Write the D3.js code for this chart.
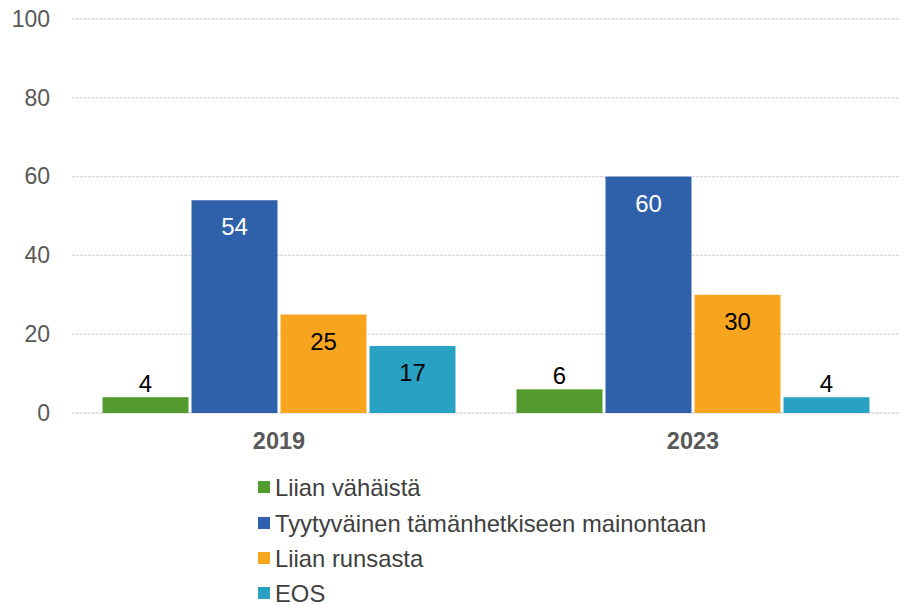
<!DOCTYPE html>
<html><head><meta charset="utf-8">
<script src="https://cdn.jsdelivr.net/npm/d3@7"></script>
<style>body{margin:0;background:#fff}svg{display:block}text{font-family:"Liberation Sans",Arial,sans-serif}</style>
</head><body>
<script>
const years = ["2019", "2023"];
const seriesNames = ["Liian vähäistä", "Tyytyväinen tämänhetkiseen mainontaan", "Liian runsasta", "EOS"];
const seriesColors = ["#539B2F", "#2F61AB", "#F7A51E", "#28A1C3"];
const values2019 = [4, 54, 25, 17];
const values2023 = [6, 60, 30, 4];
const yTicks = [0, 20, 40, 60, 80, 100];
const labelColors = ["#000", "#fff", "#000", "#000"];

(function () {
const W = 907, H = 605;
const svg = d3.select("body").append("svg").attr("width", W).attr("height", H);
const mLeft = 72, mRight = 900, mTop = 19, mBottom = 413;

const y = d3.scaleLinear().domain([0, 100]).range([mBottom, mTop]);
const x0 = d3.scaleBand().domain(years).range([mLeft, mRight]).paddingInner(0.1474).paddingOuter(0.0737);
const x1 = d3.scaleBand().domain(seriesNames).range([0, x0.bandwidth()]).paddingInner(0.034);

// gridlines
svg.append("g").selectAll("line").data(yTicks).join("line")
  .attr("x1", mLeft).attr("x2", mRight).attr("y1", d => y(d)).attr("y2", d => y(d))
  .attr("stroke", "#d9d9d9").attr("stroke-width", 1.3).attr("stroke-dasharray", "3,1");

// y axis
const yAxis = d3.axisLeft(y).tickValues(yTicks).tickSize(0).tickPadding(22);
const gy = svg.append("g").attr("transform", `translate(${mLeft},0)`).call(yAxis);
gy.select(".domain").remove();
gy.selectAll("text").attr("font-size", 23).attr("fill", "#595959").style("font-family", '"Liberation Sans",Arial,sans-serif');

// x axis
const xAxis = d3.axisBottom(x0).tickSize(0).tickPadding(19);
const gx = svg.append("g").attr("transform", `translate(0,${mBottom})`).call(xAxis);
gx.select(".domain").remove();
gx.selectAll("text").attr("font-size", 23.5).attr("font-weight", "bold").attr("fill", "#595959").style("font-family", '"Liberation Sans",Arial,sans-serif');

const data = [
  {year: "2019", vals: values2019},
  {year: "2023", vals: values2023}
];

const groups = svg.append("g").selectAll("g").data(data).join("g")
  .attr("transform", d => `translate(${x0(d.year)},0)`);

groups.selectAll("rect").data(d => d.vals.map((v, i) => ({v, i, name: seriesNames[i]}))).join("rect")
  .attr("x", d => x1(d.name)).attr("width", x1.bandwidth())
  .attr("y", d => y(d.v)).attr("height", d => y(0) - y(d.v))
  .attr("fill", d => seriesColors[d.i]);

groups.selectAll("text.lbl").data(d => d.vals.map((v, i) => ({v, i, name: seriesNames[i]}))).join("text")
  .attr("class", "lbl")
  .attr("x", d => x1(d.name) + x1.bandwidth() / 2)
  .attr("y", d => (d.v >= 10 ? y(d.v) + 35 : y(d.v) - 5))
  .attr("text-anchor", "middle")
  .attr("font-size", 24)
  .attr("fill", d => (d.v >= 10 ? labelColors[d.i] : "#000"))
  .text(d => d.v);

// legend
const lg = svg.append("g").attr("transform", "translate(258,0)");
const lgY = [487, 523, 558, 593];
seriesNames.forEach((n, i) => {
  lg.append("rect").attr("x", 0).attr("y", lgY[i] - 6).attr("width", 12).attr("height", 12).attr("fill", seriesColors[i]);
  lg.append("text").attr("x", 17).attr("y", lgY[i] + 8.5).attr("font-size", 23.8).attr("fill", "#404040").text(n);
});
})();
</script>
</body></html>
